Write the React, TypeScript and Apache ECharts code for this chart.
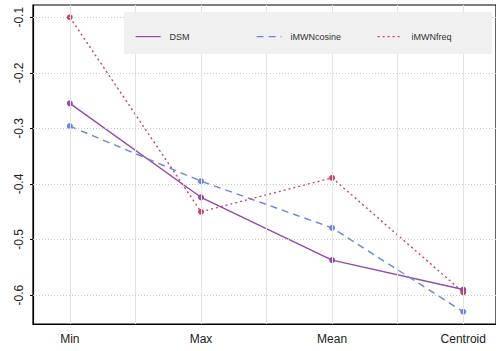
import React, { useEffect, useRef } from "react";
import * as echarts from "echarts";

const categories = ["Min", "Max", "Mean", "Centroid"];
const dsm = [-0.255, -0.424, -0.537, -0.59];
const cosine = [-0.296, -0.395, -0.479, -0.63];
const freq = [-0.1, -0.45, -0.389, -0.595];
const yTicks = [-0.6, -0.5, -0.4, -0.3, -0.2, -0.1];
const xGrid = [1, 1.5, 2, 2.5, 3, 3.5, 4];

const COLORS = { dsm: "#9448a8", cosine: "#6b86d8", freq: "#c4426c" };

export default function App() {
  const ref = useRef<HTMLDivElement>(null);
  useEffect(() => {
    const chart = echarts.init(ref.current!, null, { renderer: "svg" });
    const toData = (arr: number[]) => arr.map((v, i) => [i + 1, v]);
    const legendCommon = {
      top: 26,
      itemWidth: 25,
      itemHeight: 14,
      itemGap: 0,
      itemStyle: { opacity: 0 },
      lineStyle: { width: 1.2 },
      textStyle: { fontSize: 9, color: "#333", fontFamily: "Liberation Sans", padding: [0, 0, 0, 4] },
    };
    chart.setOption({
      animation: false,
      textStyle: { fontFamily: "Liberation Sans" },
      grid: { left: 33, top: 5, right: -2, bottom: 27, show: true, borderColor: "#000", borderWidth: 1.2 },
      graphic: [
        { type: "rect", left: 124, top: 12, shape: { width: 368, height: 42 }, style: { fill: "#f0f0f0" }, z: 50 },
      ],
      legend: [
        { ...legendCommon, left: 130, data: ["DSM"] },
        { ...legendCommon, left: 251, data: ["iMWNcosine"] },
        { ...legendCommon, left: 372, data: ["iMWNfreq"] },
      ].map((l) => ({ ...l, z: 60 })),
      xAxis: {
        type: "value",
        min: 0.719,
        max: 4.25,
        splitLine: { show: false },
        axisLine: { lineStyle: { color: "#000", width: 1.2 } },
        axisTick: { show: false },
        axisLabel: {
          customValues: [1, 2, 3, 4],
          formatter: (v: number) => categories[Math.round(v) - 1] ?? "",
          fontSize: 12,
          color: "#222",
          margin: 9,
        },
      },
      yAxis: {
        type: "value",
        min: -0.652,
        max: -0.078,
        splitLine: { show: false },
        axisLine: { show: true, lineStyle: { color: "#000", width: 1.2 } },
        axisTick: { show: true, customValues: yTicks, length: 3, lineStyle: { color: "#000" } },
        axisLabel: {
          customValues: yTicks,
          formatter: (v: number) => v.toFixed(1),
          rotate: 90,
          fontSize: 12,
          color: "#222",
          margin: 8,
        },
      },
      series: [
        {
          type: "line",
          name: "grid",
          data: [],
          silent: true,
          z: 1,
          markLine: {
            silent: true,
            symbol: "none",
            label: { show: false },
            data: [
              ...xGrid.map((x) => ({ xAxis: x, lineStyle: { color: "#e4e4e4", type: "solid", width: 1 } })),
              ...yTicks.map((y) => ({ yAxis: y, lineStyle: { color: "#c8c8c8", type: [1, 2], width: 1 } })),
            ],
          },
        },
        {
          type: "line",
          name: "DSM",
          data: toData(dsm),
          symbol: "circle",
          symbolSize: 6,
          color: COLORS.dsm,
          lineStyle: { color: COLORS.dsm, width: 1.4, type: "solid" },
          itemStyle: { color: COLORS.dsm },
          z: 3,
        },
        {
          type: "line",
          name: "iMWNcosine",
          data: toData(cosine),
          symbol: "circle",
          symbolSize: 6,
          color: COLORS.cosine,
          lineStyle: { color: COLORS.cosine, width: 1.4, type: [7, 5] },
          itemStyle: { color: COLORS.cosine },
          z: 3,
        },
        {
          type: "line",
          name: "iMWNfreq",
          data: toData(freq),
          symbol: "circle",
          symbolSize: 6,
          color: COLORS.freq,
          lineStyle: { color: COLORS.freq, width: 1.4, type: [2, 3] },
          itemStyle: { color: COLORS.freq },
          z: 3,
        },
      ],
    });
    return () => chart.dispose();
  }, []);
  return <div ref={ref} style={{ width: 496, height: 351, position: "absolute", left: 0, top: 0 }} />;
}
